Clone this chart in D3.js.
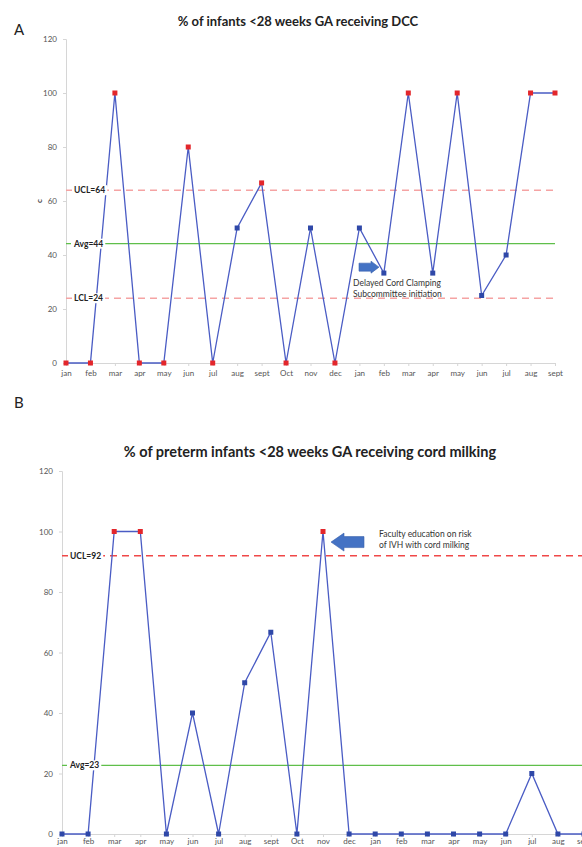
<!DOCTYPE html>
<html>
<head>
<meta charset="utf-8">
<script src="https://cdn.jsdelivr.net/npm/d3@7"></script>
<style>
  body { margin: 0; background: #fff; }
  svg { display: block; font-family: Lato, "Open Sans", sans-serif; }
</style>
</head>
<body>
<div id="chart"></div>
<script>
// Month labels shared by both run charts (21 months)
const months = ["jan","feb","mar","apr","may","jun","jul","aug","sept","Oct","nov","dec",
                "jan","feb","mar","apr","may","jun","jul","aug","sept"];
const yTicks = [0, 20, 40, 60, 80, 100, 120];

// Chart A: % receiving DCC
const dccValues = [0, 0, 100, 0, 0, 80, 0, 50, 66.7, 0, 50, 0, 50, 33.3, 100, 33.3, 100, 25, 40, 100, 100];
const dccLimits = [
  { label: "UCL=64", value: 64, kind: "limit" },
  { label: "Avg=44", value: 44.2, kind: "avg" },
  { label: "LCL=24", value: 24, kind: "limit" }
];

// Chart B: % receiving cord milking
const milkValues = [0, 0, 100, 100, 0, 40, 0, 50, 66.7, 0, 100, 0, 0, 0, 0, 0, 0, 0, 20, 0, 0];
const milkLimits = [
  { label: "UCL=92", value: 92, kind: "limit" },
  { label: "Avg=23", value: 22.7, kind: "avg" }
];

const W = 582, H = 847;
const svg = d3.select("#chart").append("svg")
  .attr("width", W)
  .attr("height", H);

function drawChart(opt) {
  const g = svg.append("g");

  const x = d3.scalePoint()
    .domain(d3.range(months.length))
    .range([opt.left, opt.right]);
  const y = d3.scaleLinear()
    .domain([0, 120])
    .range([opt.bottom, opt.top]);

  // panel letter and title
  g.append("text")
    .attr("x", 14).attr("y", opt.letterY)
    .attr("font-size", "15px").attr("fill", "#222")
    .text(opt.letter);
  g.append("text")
    .attr("x", opt.titleX).attr("y", opt.titleY)
    .attr("text-anchor", "middle")
    .attr("font-size", opt.titleSize).attr("font-weight", "bold").attr("fill", "#222")
    .text(opt.title);

  // y axis
  const yAxis = g.append("g")
    .attr("transform", `translate(${opt.left},0)`)
    .call(d3.axisLeft(y).tickValues(yTicks).tickSize(3).tickPadding(6));
  yAxis.select(".domain").attr("stroke", "#d6d6d6");
  yAxis.selectAll(".tick line").attr("stroke", "#d6d6d6");
  yAxis.selectAll(".tick text").attr("fill", "#555").attr("font-size", opt.tickSize)
    .attr("font-family", "Lato, sans-serif");

  // x axis
  const xAxis = g.append("g")
    .attr("transform", `translate(0,${opt.bottom})`)
    .call(d3.axisBottom(x).tickFormat(i => months[i]).tickSize(3).tickPadding(opt.xPad));
  xAxis.select(".domain").attr("stroke", "#d6d6d6");
  xAxis.selectAll(".tick line").attr("stroke", "#d6d6d6");
  xAxis.selectAll(".tick text").attr("fill", "#555").attr("font-size", opt.tickSize)
    .attr("font-family", "Lato, sans-serif");

  if (opt.yLabel) {
    g.append("text")
      .attr("transform", `translate(${opt.left - 24},${y(60)}) rotate(-90)`)
      .attr("text-anchor", "middle")
      .attr("font-size", "8px").attr("font-weight", "bold").attr("fill", "#333")
      .text(opt.yLabel);
  }

  // control lines
  opt.limits.forEach(l => {
    g.append("line")
      .attr("x1", opt.left).attr("x2", opt.right)
      .attr("y1", y(l.value)).attr("y2", y(l.value))
      .attr("stroke", l.kind === "avg" ? "#5fbf4a" : opt.limitColor)
      .attr("stroke-width", 1.4)
      .attr("stroke-dasharray", l.kind === "avg" ? null : "7,5");
  });

  // data line
  const line = d3.line()
    .x((d, i) => x(i))
    .y(d => y(d));
  g.append("path")
    .datum(opt.values)
    .attr("fill", "none")
    .attr("stroke", "#4a5cc4")
    .attr("stroke-width", 1.3)
    .attr("d", line);

  // markers: red when outside the control limits
  const ucl = opt.limits.find(l => l.label.startsWith("UCL"));
  const lcl = opt.limits.find(l => l.label.startsWith("LCL"));
  g.selectAll("rect.pt")
    .data(opt.values)
    .enter().append("rect")
    .attr("class", "pt")
    .attr("x", (d, i) => x(i) - 2.5)
    .attr("y", d => y(d) - 2.5)
    .attr("width", 5).attr("height", 5)
    .attr("fill", d => (ucl && d > ucl.value) || (lcl && d < lcl.value) ? "#e3262b" : "#2f48a8");

  // limit labels with white box
  opt.limits.forEach(l => {
    const t = g.append("text")
      .attr("x", opt.left + 8).attr("y", y(l.value) + 3)
      .attr("font-size", "8.5px").attr("font-weight", "bold").attr("fill", "#222")
      .text(l.label);
    const bb = t.node().getBBox();
    g.insert("rect", () => t.node())
      .attr("x", bb.x - 2).attr("y", bb.y)
      .attr("width", bb.width + 4).attr("height", bb.height)
      .attr("fill", "#fff");
  });

  // annotation arrow + text
  const a = opt.note;
  const ax = a.x, ay = y(a.yValue);
  const dir = a.dir;
  const L = a.len, hw = a.half, sw = a.shaft, hl = a.head;
  const pts = [
    [0, -sw], [L - hl, -sw], [L - hl, -hw], [L, 0], [L - hl, hw], [L - hl, sw], [0, sw]
  ].map(p => [ax + dir * p[0], ay + p[1]]);
  g.append("path")
    .attr("d", "M" + pts.join("L") + "Z")
    .attr("fill", "#4472c4")
    .attr("stroke", "#3a62ad").attr("stroke-width", 0.6);
  a.lines.forEach((s, i) => {
    g.append("text")
      .attr("x", a.textX).attr("y", a.textY + i * 11)
      .attr("font-size", "8.5px").attr("fill", "#333")
      .text(s);
  });
}

drawChart({
  letter: "A", letterY: 35,
  title: "% of infants <28 weeks GA receiving DCC",
  titleX: 298, titleY: 26, titleSize: "13px",
  left: 66, right: 555, top: 39, bottom: 363,
  tickSize: "8px", xPad: 4,
  yLabel: "c",
  values: dccValues,
  limits: dccLimits,
  limitColor: "#f5a3a3",
  note: { x: 359, yValue: 35.5, dir: 1, len: 20, half: 6, shaft: 4, head: 8,
          textX: 353, textY: 286, lines: ["Delayed Cord Clamping", "Subcommittee initiation"] }
});

drawChart({
  letter: "B", letterY: 408,
  title: "% of preterm infants <28 weeks GA receiving cord milking",
  titleX: 310, titleY: 457, titleSize: "14.5px",
  left: 62, right: 584, top: 471, bottom: 834,
  tickSize: "8px", xPad: 1,
  yLabel: null,
  values: milkValues,
  limits: milkLimits,
  limitColor: "#f04848",
  note: { x: 364, yValue: 96.5, dir: -1, len: 33, half: 9, shaft: 5.5, head: 13,
          textX: 379, textY: 537, lines: ["Faculty education on risk", "of IVH with cord milking"] }
});
</script>
</body>
</html>
